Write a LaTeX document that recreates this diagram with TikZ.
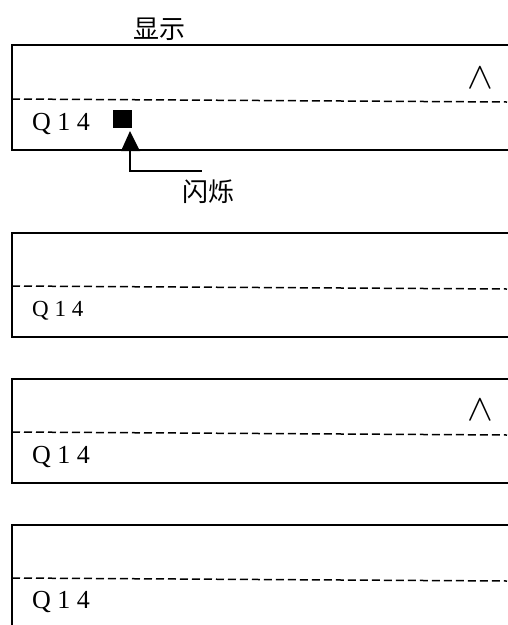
\documentclass[tikz,border=0pt]{standalone}
\usepackage{graphicx}
\usepackage{fontspec}
\setmainfont{Liberation Serif}
\newfontfamily\cjk{Noto Sans CJK SC}
\begin{document}
\begin{tikzpicture}[x=1pt,y=-1pt,
  frame/.style={line width=1.6pt},
  sep/.style={line width=1.5pt, dash pattern=on 8pt off 4pt},
  qlabel/.style={anchor=base west, inner sep=0pt, font=\fontsize{26}{26}\selectfont},
  cjklabel/.style={inner sep=0pt, font=\cjk\fontsize{26}{26}\selectfont},
  hat/.style={inner sep=0pt, font=\fontsize{24.88}{26}\selectfont}]
\useasboundingbox (0,0) rectangle (507,625);
% box 1
\draw[frame] (512,45) -- (12,45) -- (12,150) -- (512,150);
\draw[sep] (12,99) -- (507,102);
\node[cjklabel] (show) at (159,29) {显示};
\node[hat] (hat1) at (480,78) {\scalebox{1.55}[1.5]{$\wedge$}};
\node[qlabel] (q1) at (32,130) {Q 1 4};
\node[fill=black, minimum width=19pt, minimum height=18pt, inner sep=0pt] (blk) at (122,119) {};
\coordinate (tip) at (130,131);
\coordinate (bend) at (130,171);
\coordinate (lend) at (202,171);
\fill (tip) -- (121,151) -- (140,151) -- cycle;
\draw[line width=1.3pt] (130,151) -- (bend) -- (lend);
\node[cjklabel] (blink) at (208,192) {闪烁};
% box 2
\draw[frame] (512,233) -- (12,233) -- (12,337) -- (512,337);
\draw[sep] (12,286) -- (507,289);
\node[qlabel] (q2) at (32,316) {\fontsize{23}{23}\selectfont Q 1 4};
% box 3
\draw[frame] (512,379) -- (12,379) -- (12,483) -- (512,483);
\draw[sep] (12,432) -- (507,435);
\node[hat] (hat3) at (480,410) {\scalebox{1.55}[1.5]{$\wedge$}};
\node[qlabel] (q3) at (32,463) {Q 1 4};
% box 4
\draw[frame] (512,525) -- (12,525) -- (12,630);
\draw[sep] (12,578) -- (507,581);
\node[qlabel] (q4) at (32,608) {Q 1 4};
\end{tikzpicture}
\end{document}
